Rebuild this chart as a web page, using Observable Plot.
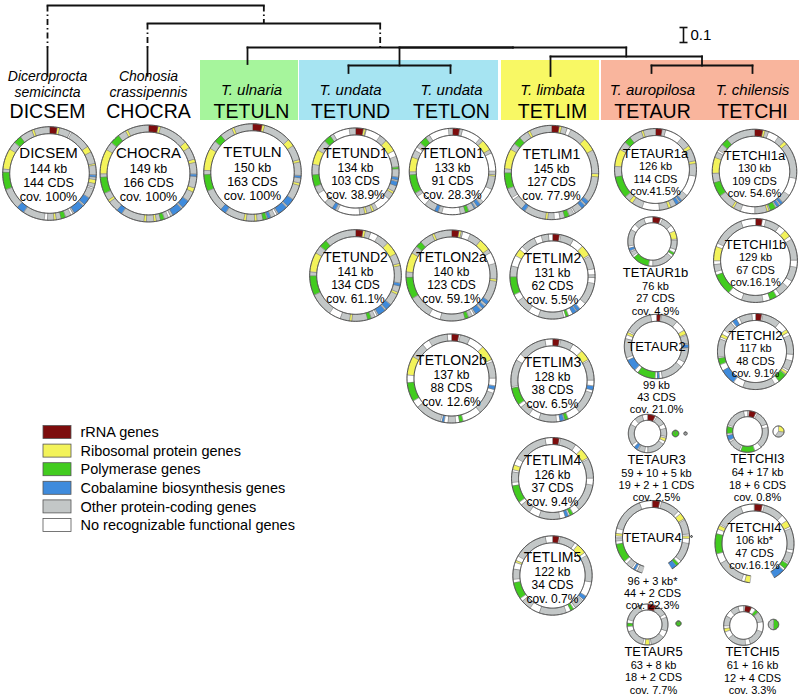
<!DOCTYPE html>
<html><head><meta charset="utf-8">
<script src="https://cdn.jsdelivr.net/npm/d3@7"></script>
<script src="https://cdn.jsdelivr.net/npm/@observablehq/plot@0.6"></script>
<style>body{margin:0;background:#fff} #chart svg{display:block}</style>
</head><body><div id="chart"></div>
<script>
// ---------------- DATA ----------------
const geneCodes  = ["R","Y","G","B","O","N"];
const geneLabels = ["rRNA genes","Ribosomal protein genes","Polymerase genes","Cobalamine biosynthesis genes","Other protein-coding genes","No recognizable functional genes"];
const geneColors = ["#7d0d0d","#f3f35a","#42cc1f","#3f8bdc","#c3c7c7","#ffffff"];

const headerCode    = ["DICSEM","CHOCRA","TETULN","TETUND","TETLON","TETLIM","TETAUR","TETCHI"];
const headerSpecies = ["Diceroprocta\nsemicincta","Chonosia\ncrassipennis","T. ulnaria","T. undata","T. undata","T. limbata","T. auropilosa","T. chilensis"];
const groupMembers  = [["TETULN"],["TETUND","TETLON"],["TETLIM"],["TETAUR","TETCHI"]];

// tree (depth in substitutions / site, scale bar = 0.1)
const treeNodes  = ["root","n2","n3","n4","nUL","n5","n6","DICSEM","CHOCRA","TETULN","TETUND","TETLON","TETLIM","TETAUR","TETCHI"];
const treeParent = [null,"root","n2","n3","n4","n4","n5","root","n2","n3","nUL","nUL","n5","n6","n6"];
const treeDepth  = [0,0.12,0.28,0.28,0.40,0.34,0.40,0.47,0.47,0.39,0.45,0.45,0.47,0.45,0.45];
const truncatedBranch = ["DICSEM","n2","CHOCRA","n3"];   // drawn dash-dot (shortened)
const truncatedUntil  = [0.28,0.12,0.28,0.28];
const scaleBarValue = 0.1;

const genomes = ["DICSEM","CHOCRA","TETULN","TETUND1","TETLON1","TETLIM1","TETAUR1a","TETCHI1a","TETUND2","TETLON2a","TETLIM2","TETAUR1b","TETCHI1b","TETLON2b","TETLIM3","TETAUR2","TETCHI2","TETLIM4","TETAUR3","TETCHI3","TETLIM5","TETAUR4","TETCHI4","TETAUR5","TETCHI5"];
const mainKb  = [144,149,150,134,133,145,126,130,141,140,131,76,129,137,128,99,117,126,59,64,122,96,106,63,61];
const kbText  = ["144 kb","149 kb","150 kb","134 kb","133 kb","145 kb","126 kb","130 kb","141 kb","140 kb","131 kb","76 kb","129 kb","137 kb","128 kb","99 kb","117 kb","126 kb","59 + 10 + 5 kb","64 + 17 kb","122 kb","96 + 3 kb*","106 kb*","63 + 8 kb","61 + 16 kb"];
const cdsText = ["144 CDS","166 CDS","163 CDS","103 CDS","91 CDS","127 CDS","114 CDS","109 CDS","134 CDS","123 CDS","62 CDS","27 CDS","67 CDS","88 CDS","38 CDS","43 CDS","48 CDS","37 CDS","19 + 2 + 1 CDS","18 + 6 CDS","34 CDS","44 + 2 CDS","47 CDS","18 + 2 CDS","12 + 4 CDS"];
const covText = ["cov. 100%","cov. 100%","cov. 100%","cov. 38.9%","cov. 28.3%","cov. 77.9%","cov.41.5%","cov. 54.6%","cov. 61.1%","cov. 59.1%","cov. 5.5%","cov. 4.9%","cov.16.1%","cov. 12.6%","cov. 6.5%","cov. 21.0%","cov. 9.1%","cov. 9.4%","cov. 2.5%","cov. 0.8%","cov. 0.7%","cov. 22.3%","cov.16.1%","cov. 7.7%","cov. 3.3%"];
const ringBase = ["O","O","O","O","O","O","O","O","O","O","N","N","N","N","N","N","N","N","N","N","N","N","N","N","N"];

const ringGapGenome = ["TETAUR4","TETCHI4"];
const ringGapFrom   = [148,150];
const ringGapTo     = [197,187];

// gene segments: [start°, end°, class], clockwise from top
const DICSEM_genes = [[0,10,"R"],[10,13,"Y"],[27,29,"N"],[55,63,"Y"],[78,80,"Y"],[92,95,"B"],[98,103,"Y"],[108,110,"N"],[122,132,"B"],[134,148,"B"],[150,153,"N"],[160,166,"G"],[172,175,"Y"],[183,187,"N"],[214,224,"B"],[250,272,"G"],[276,302,"Y"],[312,322,"G"],[338,341,"Y"]];
const CHOCRA_genes = [[0,12,"R"],[12,15,"Y"],[50,58,"Y"],[73,77,"Y"],[91,94,"B"],[108,113,"Y"],[125,135,"B"],[137,150,"B"],[153,156,"N"],[161,166,"G"],[171,174,"Y"],[183,186,"Y"],[214,221,"B"],[234,237,"Y"],[246,266,"G"],[270,300,"Y"],[310,322,"G"],[332,335,"Y"]];
const TETULN_genes = [[0,12,"R"],[12,15,"Y"],[48,57,"Y"],[75,78,"Y"],[94,97,"B"],[103,106,"Y"],[124,134,"B"],[136,148,"B"],[150,153,"N"],[158,162,"B"],[163,168,"G"],[175,178,"Y"],[188,191,"Y"],[214,221,"B"],[248,268,"G"],[273,300,"Y"],[310,320,"G"],[335,338,"Y"]];
const TETUND1_genes = [[0,11,"R"],[11,14,"Y"],[15,35,"N"],[45,62,"Y"],[62,70,"N"],[84,87,"G"],[98,102,"B"],[104,110,"B"],[118,121,"Y"],[130,150,"N"],[155,158,"Y"],[165,168,"Y"],[175,205,"N"],[208,213,"B"],[225,240,"N"],[250,266,"G"],[280,300,"Y"],[315,325,"G"],[330,352,"N"]];
const TETLON1_genes = [[0,10,"R"],[14,40,"N"],[45,60,"Y"],[65,90,"N"],[95,97,"Y"],[115,135,"N"],[140,145,"B"],[148,150,"B"],[158,163,"G"],[170,195,"N"],[200,205,"B"],[220,235,"N"],[240,266,"G"],[270,290,"Y"],[300,305,"N"],[312,322,"G"],[328,355,"N"]];
const TETLIM1_genes = [[0,10,"R"],[10,13,"Y"],[20,25,"N"],[45,62,"Y"],[92,96,"Y"],[128,133,"B"],[135,140,"B"],[150,152,"N"],[158,164,"G"],[170,177,"N"],[185,188,"Y"],[215,220,"B"],[235,238,"N"],[250,270,"G"],[275,300,"Y"],[308,318,"G"],[330,333,"Y"]];
const TETAUR1a_genes = [[0,10,"R"],[15,40,"N"],[55,60,"Y"],[78,82,"Y"],[100,130,"N"],[140,143,"B"],[145,150,"B"],[158,162,"Y"],[175,200,"N"],[215,220,"Y"],[228,260,"G"],[275,300,"Y"],[312,322,"G"],[340,343,"Y"]];
const TETCHI1a_genes = [[0,12,"R"],[12,15,"Y"],[20,35,"N"],[45,50,"Y"],[100,125,"N"],[138,142,"B"],[144,148,"B"],[150,158,"G"],[160,163,"Y"],[180,200,"N"],[210,213,"Y"],[235,255,"G"],[268,290,"Y"],[298,301,"N"],[310,320,"G"]];
const TETUND2_genes = [[0,10,"R"],[10,13,"Y"],[20,30,"N"],[45,62,"Y"],[75,78,"Y"],[100,104,"B"],[112,115,"Y"],[130,138,"B"],[140,150,"B"],[152,155,"N"],[160,165,"G"],[185,188,"Y"],[200,215,"N"],[245,270,"G"],[275,300,"Y"],[310,320,"G"]];
const TETLON2a_genes = [[0,10,"R"],[10,13,"Y"],[15,25,"N"],[40,55,"Y"],[60,75,"N"],[95,98,"Y"],[125,130,"B"],[133,137,"B"],[140,148,"B"],[150,153,"N"],[158,163,"G"],[195,210,"N"],[240,268,"G"],[275,300,"Y"],[310,318,"G"],[335,338,"Y"]];
const TETLIM2_genes = [[0,10,"R"],[12,30,"O"],[45,60,"Y"],[62,80,"O"],[88,92,"O"],[100,130,"O"],[140,145,"B"],[146,152,"B"],[158,162,"G"],[165,200,"O"],[215,235,"O"],[245,270,"G"],[270,285,"O"],[300,310,"Y"],[315,335,"O"],[345,355,"O"]];
const TETAUR1b_genes = [[0,20,"R"],[25,50,"O"],[65,85,"Y"],[88,110,"O"],[118,124,"G"],[130,180,"O"],[190,230,"G"],[235,245,"O"],[248,255,"B"],[260,300,"O"],[315,340,"O"]];
const TETCHI1b_genes = [[0,10,"R"],[15,35,"O"],[45,55,"Y"],[60,90,"O"],[100,120,"O"],[130,145,"O"],[150,160,"G"],[170,200,"O"],[220,250,"G"],[255,265,"O"],[270,290,"Y"],[295,340,"O"]];
const TETLON2b_genes = [[0,10,"R"],[12,25,"O"],[45,65,"Y"],[68,90,"O"],[100,105,"B"],[110,140,"O"],[165,170,"G"],[175,185,"O"],[190,193,"B"],[195,230,"O"],[240,265,"G"],[275,300,"Y"],[300,320,"O"],[330,355,"O"]];
const TETLIM3_genes = [[0,10,"R"],[12,30,"O"],[45,60,"Y"],[62,90,"O"],[98,104,"B"],[108,140,"O"],[158,163,"G"],[164,170,"B"],[175,200,"O"],[215,230,"O"],[235,260,"G"],[262,300,"O"],[310,350,"O"]];
const TETAUR2_genes = [[0,8,"R"],[10,40,"O"],[60,68,"Y"],[70,85,"O"],[87,93,"B"],[95,120,"O"],[130,170,"O"],[175,179,"B"],[183,216,"G"],[223,245,"B"],[250,285,"O"],[292,297,"Y"],[300,350,"O"]];
const TETCHI2_genes = [[0,10,"R"],[12,40,"O"],[55,60,"Y"],[65,95,"O"],[105,120,"O"],[123,127,"Y"],[128,142,"G"],[150,200,"O"],[216,240,"B"],[250,260,"G"],[262,290,"O"],[293,298,"Y"],[305,320,"O"],[323,330,"B"],[335,355,"O"]];
const TETLIM4_genes = [[0,10,"R"],[12,35,"O"],[45,60,"Y"],[62,90,"O"],[100,140,"O"],[150,155,"G"],[157,162,"B"],[170,200,"O"],[215,230,"O"],[235,260,"G"],[265,280,"O"],[283,290,"Y"],[300,350,"O"]];
const TETAUR3_genes = [[0,25,"R"],[30,60,"O"],[75,100,"O"],[105,115,"Y"],[125,180,"O"],[190,210,"O"],[213,225,"B"],[235,300,"O"],[320,345,"O"]];
const TETCHI3_genes = [[5,25,"R"],[30,70,"O"],[80,140,"O"],[160,200,"G"],[205,240,"O"],[245,260,"B"],[265,285,"G"],[290,350,"O"]];
const TETLIM5_genes = [[0,10,"R"],[12,35,"O"],[40,55,"Y"],[60,100,"O"],[122,128,"B"],[130,145,"O"],[148,153,"G"],[160,200,"O"],[215,230,"O"],[235,260,"G"],[265,280,"O"],[290,293,"Y"],[300,350,"O"]];
const TETAUR4_genes = [[0,12,"R"],[15,45,"O"],[50,60,"Y"],[62,85,"O"],[88,92,"Y"],[100,130,"O"],[135,140,"G"],[140,148,"B"],[197,205,"O"],[208,212,"B"],[215,225,"O"],[230,260,"G"],[265,270,"O"],[273,277,"Y"],[285,340,"O"]];
const TETCHI4_genes = [[0,12,"R"],[15,45,"O"],[55,65,"Y"],[68,100,"O"],[105,120,"O"],[122,130,"G"],[133,150,"B"],[187,195,"Y"],[200,240,"O"],[255,285,"G"],[292,298,"Y"],[300,340,"O"]];
const TETAUR5_genes = [[0,25,"R"],[28,60,"O"],[70,110,"O"],[130,170,"O"],[175,188,"Y"],[195,250,"O"],[265,275,"G"],[285,340,"O"]];
const TETCHI5_genes = [[5,25,"R"],[38,48,"G"],[50,80,"O"],[110,160,"O"],[175,230,"O"],[252,262,"Y"],[270,300,"O"],[320,345,"O"]];

// additional small contigs
const extraHost  = ["TETAUR3","TETAUR3","TETCHI3","TETAUR4","TETAUR5","TETCHI5"];
const extraKb    = [10,5,17,3,8,16];
const extraGenes = [[[0,360,"G"]],[[0,360,"O"]],[[0,100,"Y"],[100,220,"O"],[220,360,"N"]],[[0,360,"O"]],[[0,360,"G"]],[[0,180,"G"],[180,360,"O"]]];

// ---------------- LAYOUT (positions, not data) ----------------
const geneTable = {DICSEM:DICSEM_genes,CHOCRA:CHOCRA_genes,TETULN:TETULN_genes,TETUND1:TETUND1_genes,TETLON1:TETLON1_genes,TETLIM1:TETLIM1_genes,TETAUR1a:TETAUR1a_genes,TETCHI1a:TETCHI1a_genes,TETUND2:TETUND2_genes,TETLON2a:TETLON2a_genes,TETLIM2:TETLIM2_genes,TETAUR1b:TETAUR1b_genes,TETCHI1b:TETCHI1b_genes,TETLON2b:TETLON2b_genes,TETLIM3:TETLIM3_genes,TETAUR2:TETAUR2_genes,TETCHI2:TETCHI2_genes,TETLIM4:TETLIM4_genes,TETAUR3:TETAUR3_genes,TETCHI3:TETCHI3_genes,TETLIM5:TETLIM5_genes,TETAUR4:TETAUR4_genes,TETCHI4:TETCHI4_genes,TETAUR5:TETAUR5_genes,TETCHI5:TETCHI5_genes};
// [cx, cy, label mode, label x, radius override]
const layout = {
  DICSEM:[49,173,"A",48], CHOCRA:[148,173,"A",148], TETULN:[252,172,"A",252],
  TETUND1:[355,171,"B",355], TETLON1:[452,171,"B",452], TETLIM1:[551,172,"B",551],
  TETAUR1a:[655,169,"C",655], TETCHI1a:[754,171,"C",754],
  TETUND2:[355,275,"B",355], TETLON2a:[451,275,"B",451], TETLIM2:[552,276,"B",552],
  TETAUR1b:[652,241,"D",655], TETCHI1b:[755,260,"C",755],
  TETLON2b:[451,378,"B",451], TETLIM3:[552,380,"B",552], TETAUR2:[656,346,"E",656], TETCHI2:[755,351,"C",755],
  TETLIM4:[552,478,"B",552], TETAUR3:[647,433,"D",656], TETCHI3:[747,431,"D",757],
  TETLIM5:[552,575,"B",552], TETAUR4:[652,537,"E",652,37], TETCHI4:[754,543,"C",754,39.5],
  TETAUR5:[647,624,"D",653], TETCHI5:[743,625,"D",752]
};
const extraPos = [[675,433],[685,433],[778,431],[691,536],[678,623],[773,624]];
const headerX  = [47,148,251,350,451,552,652,752];
const leafX    = {DICSEM:47,CHOCRA:147,TETULN:247,TETUND:348,TETLON:450,TETLIM:550,TETAUR:651,TETCHI:752};
const groupColors = ["#a6f59c","#a6e4f2","#f8f864","#f9b59d"];

const rScale = d3.scaleLinear().domain([0,150]).range([0,48.75]);
const treeY = d3.scaleLinear().domain([0,0.1]).range([5,20]);

// ---------------- BUILD ----------------
const rad = a => a * Math.PI / 180;
function sector(cx, cy, r0, r1, a0, a1, id, code, out) {
  const n = Math.max(2, Math.ceil((a1 - a0) / 2));
  const P = [];
  for (let i = 0; i <= n; i++) { const a = rad(a0 + (a1 - a0) * i / n); P.push([cx + r1 * Math.sin(a), cy - r1 * Math.cos(a)]); }
  for (let i = n; i >= 0; i--) { const a = rad(a0 + (a1 - a0) * i / n); P.push([cx + r0 * Math.sin(a), cy - r0 * Math.cos(a)]); }
  for (const [x, y] of P) out.push({id, x, y, code});
}
function arc(cx, cy, r, a0, a1, id, out) {
  const n = Math.max(2, Math.ceil((a1 - a0) / 2));
  for (let i = 0; i <= n; i++) { const a = rad(a0 + (a1 - a0) * i / n); out.push({id, x: cx + r * Math.sin(a), y: cy - r * Math.cos(a)}); }
}
function complete(list, base, gap) {
  let start = 0, end = 360, segs = list.map(s => s.slice());
  if (gap) { start = gap[1]; end = gap[0] + 360; segs = segs.map(([a,b,c]) => a < gap[1] ? [a+360,b+360,c] : [a,b,c]); }
  segs.sort((p, q) => p[0] - q[0]);
  const out = []; let cur = start;
  for (const [a, b, c] of segs) { if (a > cur + 0.01) out.push([cur, a, base]); if (b > cur) out.push([Math.max(a, cur), b, c]); cur = Math.max(cur, b); }
  if (end > cur + 0.01) out.push([cur, end, base]);
  return [out, start, end];
}

// label styles per mode: [name size, number size, offsets of the 4 lines]
const labelStyle = {
  A: [15, 12.5, [-20, -4.6, 9.4, 23.4]],
  B: [14, 12, [-18, -3.4, 10, 23.4]],
  C: [13, 11, [-16, -2.6, 9.7, 22]],
  D: [13, 11, [7, 20.4, 32.7, 45]],
  E: [13, 11, [0, 6.5, 18.8, 31.1]]
};

const ringPts = [], edgePts = [], labelRows = [];
let sid = 0;
genomes.forEach((g, i) => {
  const [cx, cy, mode, lx, rOver] = layout[g];
  const R = rOver ?? rScale(mainKb[i]);
  const w = R >= 30 ? 7 : 6;
  const gi = ringGapGenome.indexOf(g);
  const gap = gi >= 0 ? [ringGapFrom[gi], ringGapTo[gi]] : null;
  const [segs, s0, s1] = complete(geneTable[g], ringBase[i], gap);
  for (const [a, b, c] of segs) sector(cx, cy, R - w, R, a, b, sid++, c, ringPts);
  arc(cx, cy, R, s0, s1, sid++, edgePts);
  arc(cx, cy, R - w, s0, s1, sid++, edgePts);
  const lines = [g, kbText[i], cdsText[i], covText[i]];
  const [NAME, NUM, offs] = labelStyle[mode];
  offs.forEach((d, k) => {
    let y;
    if (mode === "D") y = cy + R + d;
    else if (mode === "E") y = k === 0 ? cy : cy + R + d;
    else y = cy + d;
    labelRows.push({x: lx, y, t: lines[k], fs: k === 0 ? NAME : NUM});
  });
});
const extraPts = [];
extraHost.forEach((h, i) => {
  const [ex, ey] = extraPos[i];
  const r = rScale(extraKb[i]);
  for (const [a, b, c] of extraGenes[i]) sector(ex, ey, 0, r, a, b, sid++, c, extraPts);
  arc(ex, ey, r, 0, 360, sid++, edgePts);
});

// tree
const nodeDepth = new Map(treeNodes.map((n, i) => [n, treeDepth[i]]));
const children = new Map(treeNodes.map(n => [n, []]));
treeNodes.forEach((n, i) => { if (treeParent[i]) children.get(treeParent[i]).push(n); });
const nodeX = new Map();
function xOf(n) {
  if (nodeX.has(n)) return nodeX.get(n);
  const ch = children.get(n);
  const v = ch.length ? (xOf(ch[0]) + xOf(ch[ch.length - 1])) / 2 : leafX[n];
  nodeX.set(n, v); return v;
}
const solidLinks = [], dashLinks = [];
treeNodes.forEach((n, i) => {
  const ch = children.get(n);
  if (ch.length) solidLinks.push({x1: xOf(ch[0]), x2: xOf(ch[ch.length - 1]), y1: treeY(nodeDepth.get(n)), y2: treeY(nodeDepth.get(n))});
  const p = treeParent[i];
  if (!p) return;
  const x = xOf(n), y0 = treeY(nodeDepth.get(p)), y1 = treeY(nodeDepth.get(n));
  const ti = truncatedBranch.indexOf(n);
  if (ti >= 0) {
    const yb = treeY(truncatedUntil[ti]);
    dashLinks.push({x1: x, x2: x, y1: y0, y2: yb});
    if (y1 > yb) solidLinks.push({x1: x, x2: x, y1: yb, y2: y1});
  } else solidLinks.push({x1: x, x2: x, y1: y0, y2: y1});
});
const sbX = 683, sbY0 = 27, sbY1 = sbY0 + (treeY(scaleBarValue) - treeY(0));
const scaleBar = [{x1: sbX, x2: sbX, y1: sbY0, y2: sbY1}, {x1: sbX - 4, x2: sbX + 4, y1: sbY0, y2: sbY0}, {x1: sbX - 4, x2: sbX + 4, y1: sbY1, y2: sbY1}];

// header
const hx = new Map(headerCode.map((c, i) => [c, headerX[i]]));
const groupRects = groupMembers.map((m, i) => ({x1: hx.get(m[0]) - 51, x2: hx.get(m[m.length - 1]) + 47, y1: 60, y2: 120, color: groupColors[i]}));
const speciesOne = headerCode.map((c, i) => ({x: headerX[i], t: headerSpecies[i]})).filter(d => !d.t.includes("\n")).map(d => ({...d, y: 90}));
const speciesTwo = headerCode.map((c, i) => ({x: headerX[i], t: headerSpecies[i]})).filter(d => d.t.includes("\n")).map(d => ({...d, y: 83.5}));
const codeRows = headerCode.map((c, i) => ({x: headerX[i], t: c, y: 111}));

// legend
const legendRows = geneCodes.map((c, i) => ({code: c, label: geneLabels[i], y: 432 + 18.6 * i}));

const font = "Arial, 'Liberation Sans', Helvetica, sans-serif";
const chart = Plot.plot({
  width: 802, height: 697, margin: 0,
  x: {domain: [0, 802], range: [0, 802], axis: null},
  y: {domain: [0, 697], range: [0, 697], axis: null},
  color: {domain: geneCodes, range: geneColors},
  style: {fontFamily: font, background: "#fff", color: "#000"},
  marks: [
    ...groupRects.map(r => Plot.rect([r], {x1: "x1", x2: "x2", y1: "y1", y2: "y2", fill: r.color})),
    Plot.link(solidLinks, {x1: "x1", y1: "y1", x2: "x2", y2: "y2", stroke: "#111", strokeWidth: 1.8, strokeLinecap: "square"}),
    Plot.link(dashLinks, {x1: "x1", y1: "y1", x2: "x2", y2: "y2", stroke: "#111", strokeWidth: 1.8, strokeDasharray: "6,3,1.5,3"}),
    Plot.link(scaleBar, {x1: "x1", y1: "y1", x2: "x2", y2: "y2", stroke: "#111", strokeWidth: 1.6}),
    Plot.text([scaleBarValue], {x: sbX + 7, y: (sbY0 + sbY1) / 2, text: d => String(d), textAnchor: "start", fontSize: 15}),
    Plot.text(speciesOne, {x: "x", y: "y", text: "t", fontSize: 15, fontStyle: "italic"}),
    Plot.text(speciesTwo, {x: "x", y: "y", text: "t", fontSize: 14, fontStyle: "italic", lineHeight: 1.12}),
    Plot.text(codeRows, {x: "x", y: "y", text: "t", fontSize: 19.5}),
    Plot.line(ringPts, {x: "x", y: "y", z: "id", fill: "code", stroke: "#7a7a7a", strokeWidth: 0.5, strokeLinejoin: "miter", curve: "linear-closed"}),
    Plot.line(extraPts, {x: "x", y: "y", z: "id", fill: "code", stroke: "#7a7a7a", strokeWidth: 0.5, strokeLinejoin: "miter", curve: "linear-closed"}),
    Plot.line(edgePts, {x: "x", y: "y", z: "id", stroke: "#4a4a4a", strokeWidth: 0.9, strokeLinecap: "butt"}),
    Plot.text(labelRows, {x: "x", y: "y", text: "t", fontSize: "fs"}),
    Plot.rect(legendRows, {x1: 43, x2: 71, y1: d => d.y - 6.5, y2: d => d.y + 6.5, fill: "code", stroke: "#555", strokeWidth: 0.8}),
    Plot.text(legendRows, {x: 80, y: "y", text: "label", textAnchor: "start", fontSize: 14.5})
  ]
});
document.getElementById("chart").append(chart);
</script></body></html>
